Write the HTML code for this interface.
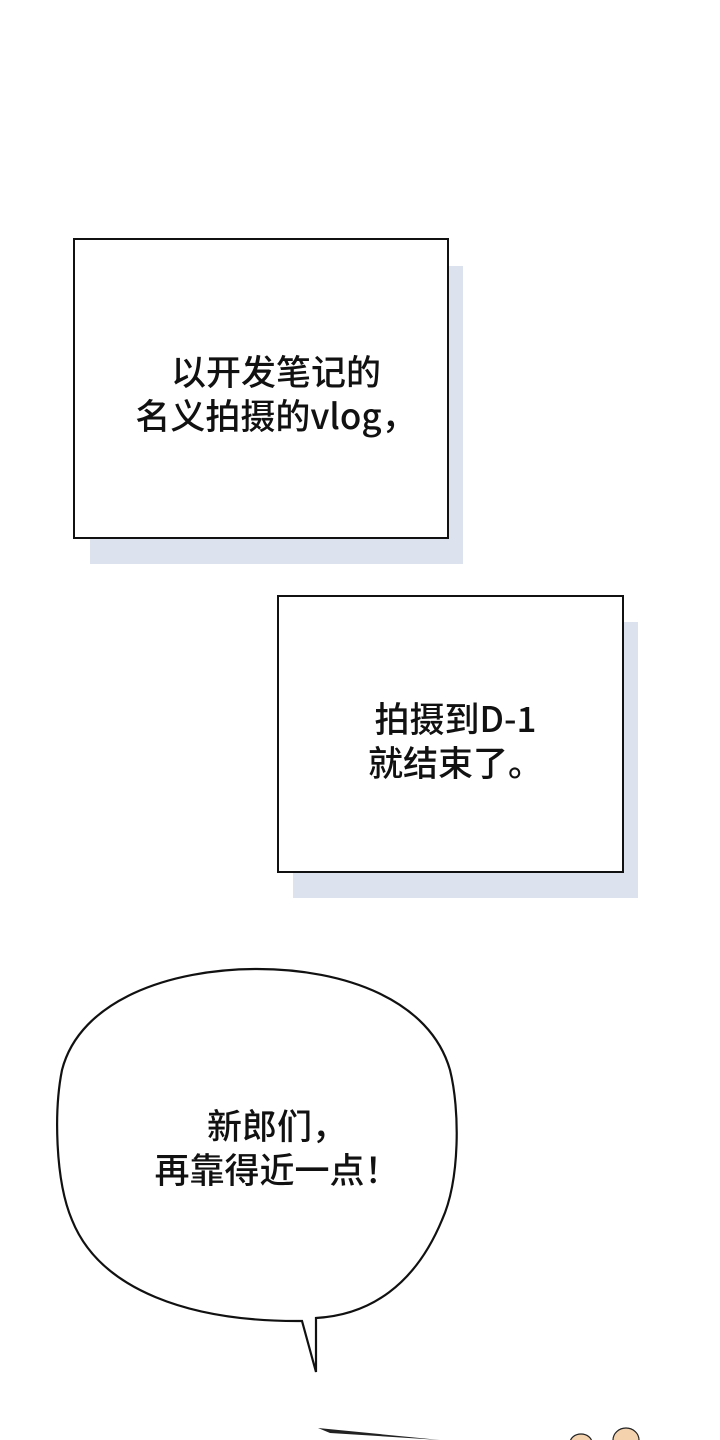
<!DOCTYPE html>
<html><head><meta charset="utf-8"><style>
html,body{margin:0;padding:0;background:#fff;}
body{width:720px;height:1440px;position:relative;overflow:hidden;font-family:"Liberation Sans","Noto Sans CJK SC",sans-serif;}
.sh{position:absolute;background:#dde3ee;}
.bx{position:absolute;background:#fff;border:2px solid #111;box-sizing:border-box;}
.t{position:absolute;text-align:center;font-family:"Noto Sans CJK SC",sans-serif;font-weight:500;font-size:35px;line-height:44px;color:#111;}
</style></head><body>
<div class="sh" style="left:90px;top:266px;width:373px;height:298px"></div>
<div class="bx" style="left:73px;top:238px;width:376px;height:301px"></div>
<div class="t" style="left:88px;top:349px;width:376px">以开发笔记的<br>名义拍摄的vlog，</div>
<div class="sh" style="left:293px;top:622px;width:345px;height:276px"></div>
<div class="bx" style="left:277px;top:595px;width:347px;height:278px"></div>
<div class="t" style="left:282px;top:696px;width:347px">拍摄到D-1<br>就结束了。</div>
<svg style="position:absolute;left:0;top:0" width="720" height="1440">
<path d="M302,1321 C190,1322 100,1290 72,1220 C55,1180 54,1110 62,1070 C80,1000 170,969 257,969 C345,969 430,1000 450,1070 C460,1110 460,1180 442,1220 C415,1285 370,1315 316,1318 L316,1372 Z" fill="#fff" stroke="#111" stroke-width="2.2" stroke-linejoin="miter"/>
<path d="M318,1428 L440,1440 L330,1433 Z" fill="#222"/>
<ellipse cx="581" cy="1443" rx="11" ry="9" fill="#f5d2ae" stroke="#222" stroke-width="1.2"/>
<ellipse cx="626" cy="1440" rx="13" ry="12" fill="#f5d2ae" stroke="#222" stroke-width="1.2"/>
</svg>
<div class="t" style="left:67px;top:1103px;width:420px">新郎们，<br>再靠得近一点！</div>
</body></html>
